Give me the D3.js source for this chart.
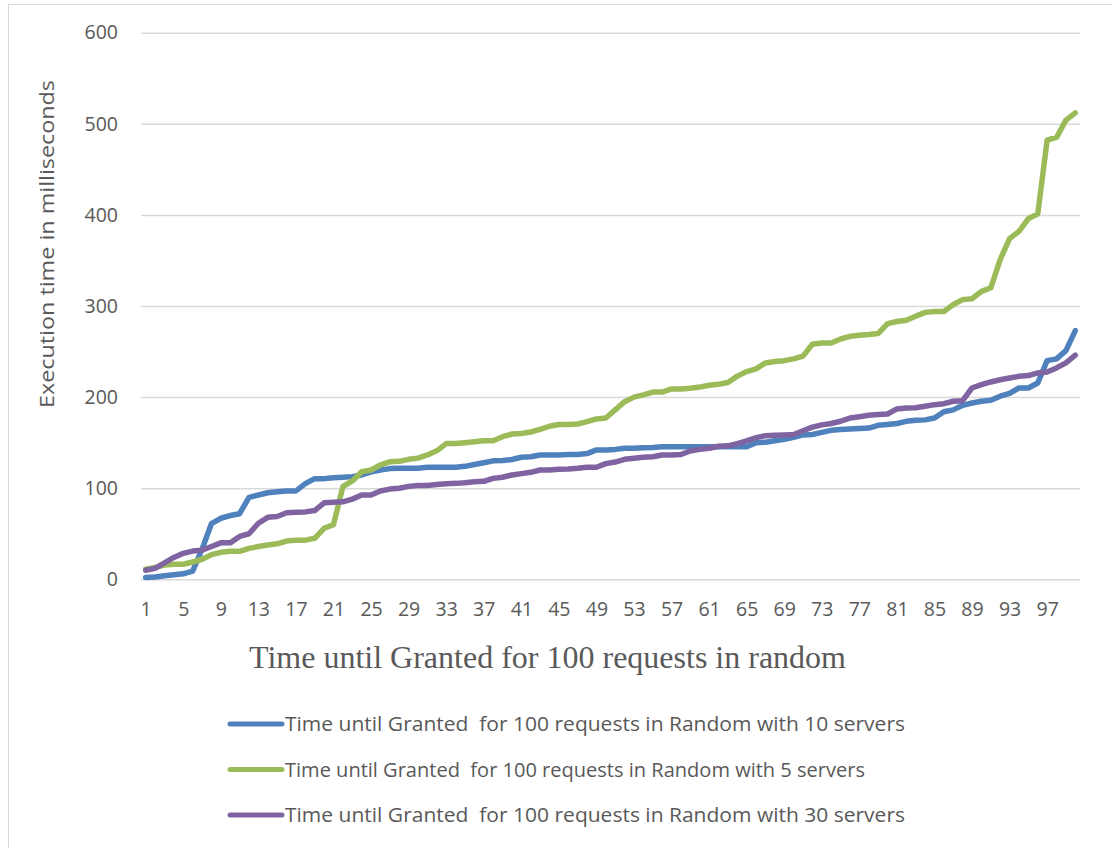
<!DOCTYPE html>
<html>
<head>
<meta charset="utf-8">
<script src="https://cdn.jsdelivr.net/npm/d3@7"></script>
<style>
  body { margin: 0; background: #fff; }
  text { font-family: "Open Sans", "Noto Sans", sans-serif; fill: #595959; }
</style>
</head>
<body>
<div id="container"></div>
<script>
"use strict";

// request index 1..100
const requests = d3.range(1, 101);

// x tick labels shown under the axis
const xTickLabels = [1, 5, 9, 13, 17, 21, 25, 29, 33, 37, 41, 45, 49, 53, 57, 61, 65, 69, 73, 77, 81, 85, 89, 93, 97];
const yTickLabels = [0, 100, 200, 300, 400, 500, 600];

// ms
const tenServers = [
  2, 2.5, 4, 5, 6, 9, 33, 61, 67, 70,
  72, 90, 92.5, 95, 96, 97, 97, 105, 110.5, 110.5,
  111.5, 112, 112.7, 114.5, 118, 120, 121.5, 122, 122, 122,
  123, 123, 123, 123, 124, 126, 128, 130, 130.5, 131.5,
  134, 134.5, 136.4, 136.4, 136.4, 137, 137, 138, 142, 142,
  142.6, 143.8, 143.8, 144.5, 144.8, 145.6, 145.6, 145.6, 145.6, 145.5,
  145.5, 145.5, 145.5, 145.5, 145.5, 150, 150.5, 152, 153.6, 155.8,
  158.5, 159, 161.3, 163.5, 164.5, 165, 165.5, 166, 169, 170,
  171, 173.4, 174.5, 175, 177, 184, 186, 191, 193.5, 195.4,
  196.5, 201, 204, 210, 210, 215.5, 240, 242, 251, 273
];

const fiveServers = [
  11, 13, 15.7, 16.5, 16.5, 19, 22, 27, 29.6, 30.7,
  30.7, 34, 36, 37.7, 39, 42, 43, 43, 45, 56,
  60, 101.7, 108, 118, 120, 125.5, 129, 129.5, 131.7, 133,
  136.5, 141, 149, 149, 150, 151, 152, 152, 156.5, 159.5,
  160, 161.7, 164.6, 168, 170, 170, 170.5, 173, 176, 177,
  186, 195, 200, 202.5, 205.5, 205.5, 209, 209, 209.7, 211,
  213, 214, 216, 223, 228, 231, 237.5, 239, 240, 242,
  245, 258, 259.4, 259.4, 263.8, 266.7, 268, 268.6, 269.7, 280.6,
  283, 284.3, 288.7, 293, 294, 294, 301.5, 307, 308, 316,
  320, 351, 374, 382, 396, 401, 482, 485, 504, 512
];

const thirtyServers = [
  10, 12, 18, 24, 28.5, 31, 32, 36, 40, 40,
  47, 50, 61.5, 68, 69, 73, 73.5, 74, 75.5, 84,
  84.5, 85, 88, 92.5, 92.5, 97, 99, 100, 102, 103,
  103, 104, 105, 105.3, 106, 107, 107.5, 110.8, 112, 114.5,
  116, 117.4, 120, 120, 120.7, 121, 121.8, 123, 123, 127,
  128.7, 131.7, 132.8, 134, 134.6, 136.4, 136.4, 137, 140.8, 142.6,
  143.8, 146, 146.5, 149, 152, 155.5, 157.7, 158, 158.4, 159,
  163, 167, 169.5, 171, 173.5, 177, 178.5, 180, 181, 181.5,
  187, 188, 188.4, 190, 191.7, 192.8, 195.4, 196, 210, 213.7,
  216.6, 219, 221, 222.8, 223.6, 226.5, 227.6, 232, 237.5, 246
];

const seriesNames = [
  "Time until Granted\u00a0 for 100 requests in Random with 10 servers",
  "Time until Granted\u00a0 for 100 requests in Random with 5 servers",
  "Time until Granted\u00a0 for 100 requests in Random with 30 servers"
];
const seriesColors = ["#4f81bd", "#9bbb59", "#8064a2"];
// legend text widths measured on the picture
const legendWidths = [620, 580, 620];

const series = [tenServers, fiveServers, thirtyServers].map(function (v, i) {
  return { name: seriesNames[i], color: seriesColors[i], values: v, width: legendWidths[i] };
});

const W = 1112, H = 848;
const plot = { left: 141, right: 1080, top: 32.7, bottom: 579.3 };

const svg = d3.select("#container")
  .append("svg")
  .attr("width", W)
  .attr("height", H);

// chart frame (only top/left edges are in view)
svg.append("rect")
  .attr("x", 8.5).attr("y", 4.5)
  .attr("width", W + 20).attr("height", H + 20)
  .attr("fill", "none")
  .attr("stroke", "#d9d9d9");

const x = d3.scalePoint()
  .domain(requests)
  .range([plot.left, plot.right])
  .padding(0.5);

const y = d3.scaleLinear()
  .domain([0, 600])
  .range([plot.bottom, plot.top]);

// y axis + gridlines
const yAxis = svg.append("g")
  .attr("transform", "translate(" + plot.left + ",0)")
  .call(d3.axisLeft(y)
    .tickValues(yTickLabels)
    .tickSize(-(plot.right - plot.left))
    .tickPadding(23));
yAxis.select(".domain").remove();
yAxis.selectAll("line").attr("stroke", "#d9d9d9").attr("stroke-width", 1.5);
yAxis.selectAll("text")
  .style("font-size", "19.5px")
  .style("font-family", "'Open Sans', sans-serif")
  .attr("fill", "#595959");

// x axis
const xAxis = svg.append("g")
  .attr("transform", "translate(0," + plot.bottom + ")")
  .call(d3.axisBottom(x).tickValues(xTickLabels).tickSize(0).tickPadding(23));
xAxis.select(".domain").remove();
xAxis.selectAll("text")
  .style("font-size", "19.5px")
  .style("font-family", "'Open Sans', sans-serif")
  .attr("fill", "#595959");

// lines
const line = d3.line()
  .x(function (d, i) { return x(requests[i]); })
  .y(function (d) { return y(d); });

svg.append("g")
  .selectAll("path")
  .data(series)
  .enter()
  .append("path")
  .attr("d", function (s) { return line(s.values); })
  .attr("fill", "none")
  .attr("stroke", function (s) { return s.color; })
  .attr("stroke-width", 5.5)
  .attr("stroke-linejoin", "round")
  .attr("stroke-linecap", "round");

// y axis title
svg.append("text")
  .attr("transform", "translate(54,244) rotate(-90)")
  .attr("text-anchor", "middle")
  .attr("textLength", 328)
  .attr("lengthAdjust", "spacingAndGlyphs")
  .style("font-size", "20.5px")
  .text("Execution time in milliseconds");

// x axis title
svg.append("text")
  .attr("x", 547.5)
  .attr("y", 668)
  .attr("text-anchor", "middle")
  .style("font-family", "'Liberation Serif', 'Times New Roman', serif")
  .style("font-size", "32px")
  .text("Time until Granted for 100 requests in random");

// legend
const legend = svg.append("g")
  .selectAll("g")
  .data(series)
  .enter()
  .append("g")
  .attr("transform", function (d, i) { return "translate(0," + (724 + i * 45.5) + ")"; });

legend.append("line")
  .attr("x1", 230).attr("x2", 282)
  .attr("stroke", function (d) { return d.color; })
  .attr("stroke-width", 5)
  .attr("stroke-linecap", "round");

legend.append("text")
  .attr("x", 285)
  .attr("y", 7)
  .attr("textLength", function (d) { return d.width; })
  .attr("lengthAdjust", "spacingAndGlyphs")
  .style("font-size", "20.5px")
  .text(function (d) { return d.name; });
</script>
</body>
</html>
